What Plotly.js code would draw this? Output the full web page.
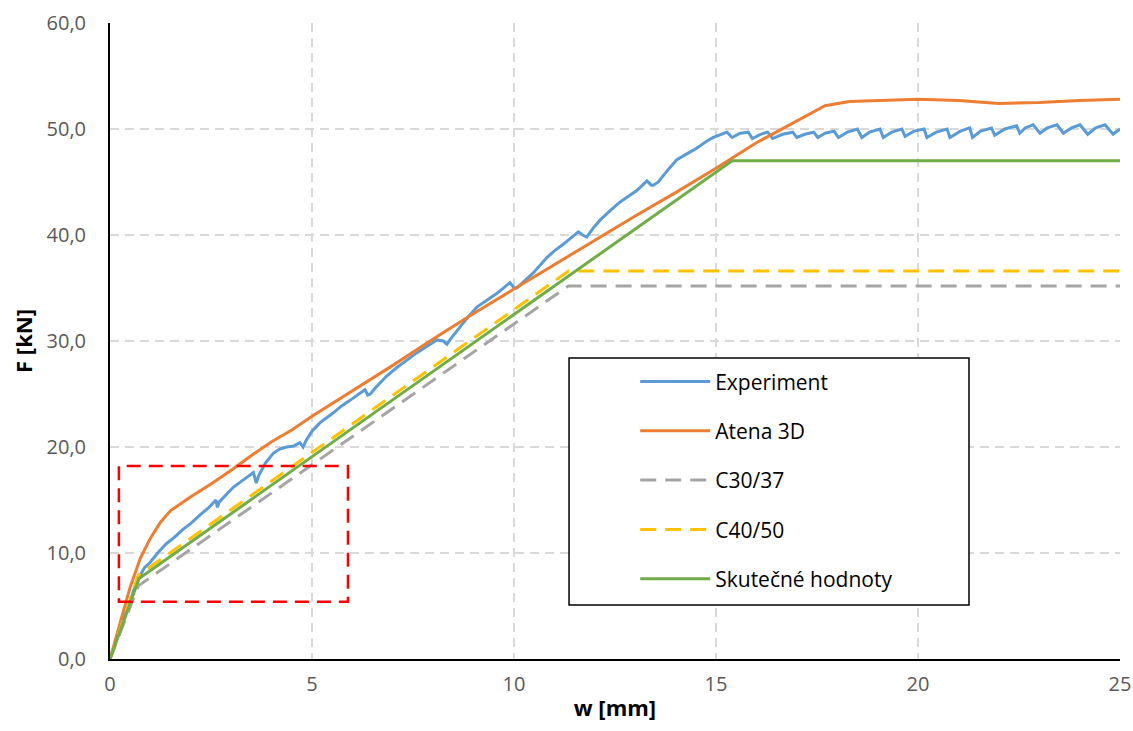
<!DOCTYPE html>
<html>
<head>
<meta charset="utf-8">
<script src="https://cdn.plot.ly/plotly-3.0.1.min.js"></script>
<style>
  html, body { margin: 0; padding: 0; background: #ffffff; }
  #chart { width: 1133px; height: 731px; }
</style>
</head>
<body>
<div id="chart"></div>
<script>
// Load–deflection curves: force F [kN] against deflection w [mm]

// Experiment (measured)
const expW = [0, 0.3, 0.6, 0.75, 0.85, 0.99, 1.2, 1.4, 1.6, 1.8, 2.0, 2.23, 2.45, 2.62, 2.66, 2.7, 2.85, 3.05, 3.3, 3.55, 3.62, 3.68, 3.85, 4.04, 4.2, 4.37, 4.55, 4.7, 4.78, 4.85, 5.0, 5.2, 5.52, 5.74, 5.94, 6.15, 6.31, 6.38, 6.44, 6.6, 6.85, 7.1, 7.35, 7.6, 7.85, 8.09, 8.25, 8.34, 8.45, 8.59, 8.85, 9.08, 9.35, 9.58, 9.9, 10.0, 10.07, 10.25, 10.47, 10.82, 11.0, 11.21, 11.4, 11.59, 11.7, 11.8, 11.95, 12.13, 12.38, 12.62, 12.85, 13.04, 13.29, 13.4, 13.45, 13.57, 13.8, 14.03, 14.3, 14.53, 14.75, 14.93, 15.27, 15.4, 15.6, 15.8, 15.9, 16.1, 16.28, 16.4, 16.65, 16.9, 17.0, 17.2, 17.42, 17.52, 17.7, 17.92, 18.03, 18.25, 18.5, 18.61, 18.8, 19.06, 19.14, 19.35, 19.6, 19.68, 19.9, 20.15, 20.22, 20.45, 20.72, 20.79, 21.05, 21.28, 21.35, 21.55, 21.82, 21.9, 22.15, 22.44, 22.52, 22.65, 22.85, 23.02, 23.2, 23.44, 23.6, 23.8, 24.01, 24.2, 24.4, 24.63, 24.83, 25.0];
const expF = [0, 3.2, 6.6, 7.9, 8.6, 9.1, 10.1, 10.9, 11.5, 12.2, 12.8, 13.6, 14.3, 15.0, 14.3, 14.8, 15.4, 16.2, 16.9, 17.6, 16.6, 17.3, 18.5, 19.4, 19.8, 20.0, 20.1, 20.4, 20.0, 20.6, 21.5, 22.3, 23.2, 23.9, 24.4, 25.0, 25.4, 24.9, 25.0, 25.7, 26.7, 27.5, 28.2, 28.9, 29.5, 30.1, 30.0, 29.7, 30.3, 31.0, 32.2, 33.2, 33.9, 34.5, 35.5, 35.0, 35.0, 35.6, 36.4, 37.9, 38.5, 39.1, 39.7, 40.3, 40.0, 39.8, 40.6, 41.4, 42.3, 43.1, 43.7, 44.2, 45.1, 44.7, 44.7, 45.0, 46.1, 47.1, 47.7, 48.2, 48.8, 49.2, 49.7, 49.2, 49.6, 49.7, 49.1, 49.5, 49.7, 49.1, 49.5, 49.7, 49.2, 49.5, 49.7, 49.2, 49.6, 49.8, 49.2, 49.7, 50.0, 49.2, 49.7, 50.0, 49.2, 49.7, 50.0, 49.3, 49.8, 50.0, 49.2, 49.7, 50.0, 49.2, 49.8, 50.1, 49.2, 49.8, 50.1, 49.4, 50.0, 50.3, 49.6, 50.1, 50.4, 49.6, 50.1, 50.4, 49.6, 50.1, 50.4, 49.5, 50.1, 50.4, 49.5, 50.0];

// Atena 3D (numerical model)
const atenaW = [0, 0.25, 0.5, 0.75, 1.0, 1.25, 1.5, 2.0, 2.5, 3.0, 3.5, 4.0, 4.5, 5.0, 6.0, 7.0, 8.0, 9.0, 10.0, 11.0, 12.0, 13.0, 14.0, 15.0, 16.0, 17.0, 17.7, 18.3, 19.0, 20.0, 21.0, 22.0, 23.0, 24.0, 25.0];
const atenaF = [0, 3.3, 6.8, 9.5, 11.4, 12.9, 14.0, 15.3, 16.5, 17.8, 19.2, 20.5, 21.6, 22.9, 25.3, 27.7, 30.2, 32.6, 34.9, 37.2, 39.5, 41.8, 44.0, 46.3, 48.7, 50.8, 52.2, 52.6, 52.7, 52.8, 52.7, 52.4, 52.5, 52.7, 52.8];

// Analytical models: bilinear curves with a plateau
const c30W = [0, 0.7, 11.35, 25];
const c30F = [0, 6.9, 35.2, 35.2];

const c40W = [0, 0.7, 11.35, 25];
const c40F = [0, 7.9, 36.6, 36.6];

const realW = [0, 0.72, 15.4, 25];
const realF = [0, 7.6, 47.0, 47.0];

const seriesNames = ['Experiment', 'Atena 3D', 'C30/37', 'C40/50', 'Skutečné hodnoty'];

// Axis tick values
const xTicks = [0, 5, 10, 15, 20, 25];
const yTicks = [0, 10, 20, 30, 40, 50, 60];

const fontFamily = '"Open Sans", Lato, "Liberation Sans", sans-serif';

function lineTrace(x, y, name, color, dash, group) {
  return {
    x: x, y: y, name: name, type: 'scatter', mode: 'lines',
    legendgroup: group,
    line: { color: color, width: 3, dash: dash || 'solid', shape: 'linear' },
    hoverinfo: 'x+y+name'
  };
}

const traces = [
  lineTrace(expW, expF, seriesNames[0], '#5B9BD5', 'solid', 'g1'),
  lineTrace(atenaW, atenaF, seriesNames[1], '#ED7D31', 'solid', 'g2'),
  lineTrace(c30W, c30F, seriesNames[2], '#A5A5A5', '16px,9px', 'g3'),
  lineTrace(c40W, c40F, seriesNames[3], '#FFC000', '16px,9px', 'g4'),
  lineTrace(realW, realF, seriesNames[4], '#70AD47', 'solid', 'g5')
];

const gridStyle = { gridcolor: '#D9D9D9', gridwidth: 1.2, griddash: '9px,6px' };

const layout = {
  width: 1133,
  height: 731,
  margin: { l: 110, r: 13, t: 23, b: 72 },
  paper_bgcolor: '#ffffff',
  plot_bgcolor: '#ffffff',
  separators: ',.',
  font: { family: fontFamily, color: '#595959', size: 20 },
  showlegend: true,
  legend: {
    x: 0.52, xanchor: 'left',
    y: 0.468, yanchor: 'top',
    bgcolor: 'rgba(0,0,0,0)',
    borderwidth: 0,
    itemwidth: 70,
    tracegroupgap: 19,
    font: { family: fontFamily, size: 21, color: '#000000' }
  },
  xaxis: Object.assign({
    range: [0, 25],
    tickvals: xTicks,
    ticktext: xTicks.map(String),
    showgrid: true,
    zeroline: false,
    showline: true,
    linecolor: '#000000',
    linewidth: 2,
    ticks: '',
    ticklabelstandoff: 6,
    tickfont: { family: fontFamily, size: 20, color: '#595959' },
    title: { text: '<b>w [mm]</b>', font: { family: fontFamily, size: 22, color: '#000000' }, standoff: 5 }
  }, gridStyle),
  yaxis: Object.assign({
    range: [0, 60],
    tickvals: yTicks,
    tickformat: '.1f',
    showgrid: true,
    zeroline: false,
    showline: true,
    linecolor: '#000000',
    linewidth: 2,
    ticks: '',
    ticklabelstandoff: 18,
    tickfont: { family: fontFamily, size: 20, color: '#595959' },
    title: { text: '<b>F [kN]</b>', font: { family: fontFamily, size: 22, color: '#000000' }, standoff: 8 }
  }, gridStyle),
  shapes: [
    // highlighted region of the initial loading branch
    {
      type: 'rect', xref: 'x', yref: 'y',
      x0: 0.22, x1: 5.89, y0: 5.4, y1: 18.2,
      line: { color: '#FF0000', width: 2.5, dash: '14px,8px' },
      fillcolor: 'rgba(0,0,0,0)',
      layer: 'above'
    },
    // frame around the legend
    {
      type: 'rect', xref: 'paper', yref: 'paper',
      x0: 0.4545, x1: 0.8505, y0: 0.0849, y1: 0.4733,
      line: { color: '#000000', width: 1.5 },
      fillcolor: '#ffffff',
      layer: 'above'
    }
  ]
};

Plotly.newPlot('chart', traces, layout, { displayModeBar: false, staticPlot: true });
</script>
</body>
</html>
